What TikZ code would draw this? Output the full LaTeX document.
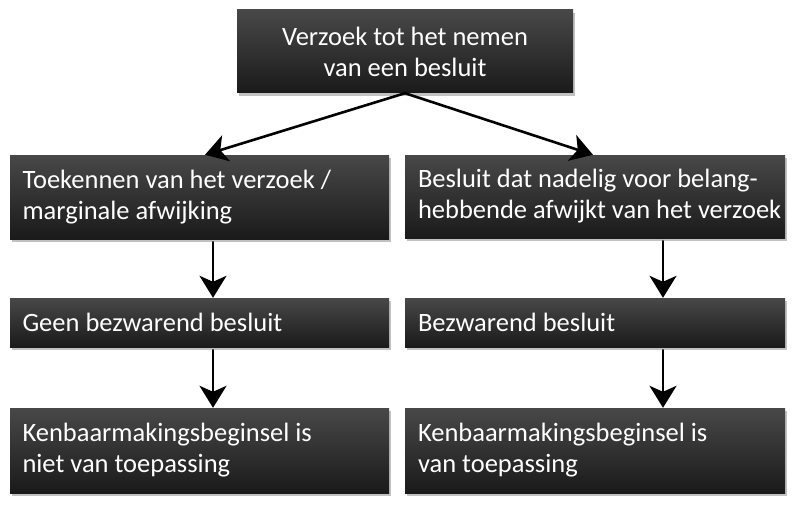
\documentclass[tikz,border=0pt]{standalone}
\usepackage{fontspec}
\setmainfont{Carlito}
\usepackage{tikz}
\usetikzlibrary{arrows.meta,shadows}
\definecolor{boxtop}{HTML}{484848}
\definecolor{boxbottom}{HTML}{1A1A1A}
\tikzset{
  box/.style={rectangle,top color=boxtop,bottom color=boxbottom,
    text=white,font=\fontsize{26.5}{31}\selectfont,inner xsep=12.5pt,inner ysep=0pt,
    drop shadow={shadow xshift=2pt,shadow yshift=-3pt,opacity=0.3,fill=black!80}},
  leftbox/.style={box,minimum width=379pt,text width=354pt,align=flush left},
  conn/.style={line width=2.6pt,-{Stealth[length=22pt,width=27pt,inset=6pt]}}
}
\begin{document}
\begin{tikzpicture}[line cap=round,line join=round,x=1pt,y=-1pt]
\useasboundingbox (0,0) rectangle (800,508);
\node[box,minimum width=336pt,minimum height=83pt,align=flush center] (verzoek) at (405,51.5) {Verzoek tot het nemen\\van een besluit};
\node[leftbox,minimum height=84pt] (toekennen) at (199.5,197) {\mbox{Toekennen van het verzoek /}\\marginale afwijking};
\node[leftbox,minimum width=380pt,minimum height=83pt] (nadelig) at (595,196.5) {\mbox{Besluit dat nadelig voor belang-}\\\mbox{hebbende afwijkt van het verzoek}};
\node[leftbox,minimum height=49pt] (geen) at (199.5,322.5) {Geen bezwarend besluit};
\node[leftbox,minimum width=380pt,minimum height=49pt] (bezwarend) at (595,322.5) {Bezwarend besluit};
\node[leftbox,minimum height=85pt] (nietvan) at (199.5,450.5) {\mbox{Kenbaarmakingsbeginsel is}\\niet van toepassing};
\node[leftbox,minimum width=380pt,minimum height=85pt] (welvan) at (595,450.5) {\mbox{Kenbaarmakingsbeginsel is}\\van toepassing};
\draw[conn] (verzoek.south) -- ([xshift=5.5pt]toekennen.north);
\draw[conn] (verzoek.south) -- ([xshift=-2pt]nadelig.north);
\draw[conn,shorten <=3pt] ([xshift=13.5pt]toekennen.south) -- ([xshift=13.5pt]geen.north);
\draw[conn,shorten <=3pt] ([xshift=13.5pt]geen.south) -- ([xshift=13.5pt]nietvan.north);
\draw[conn,shorten <=3pt] ([xshift=68pt]nadelig.south) -- ([xshift=68pt]bezwarend.north);
\draw[conn,shorten <=3pt] ([xshift=68pt]bezwarend.south) -- ([xshift=68pt]welvan.north);
\end{tikzpicture}
\end{document}
